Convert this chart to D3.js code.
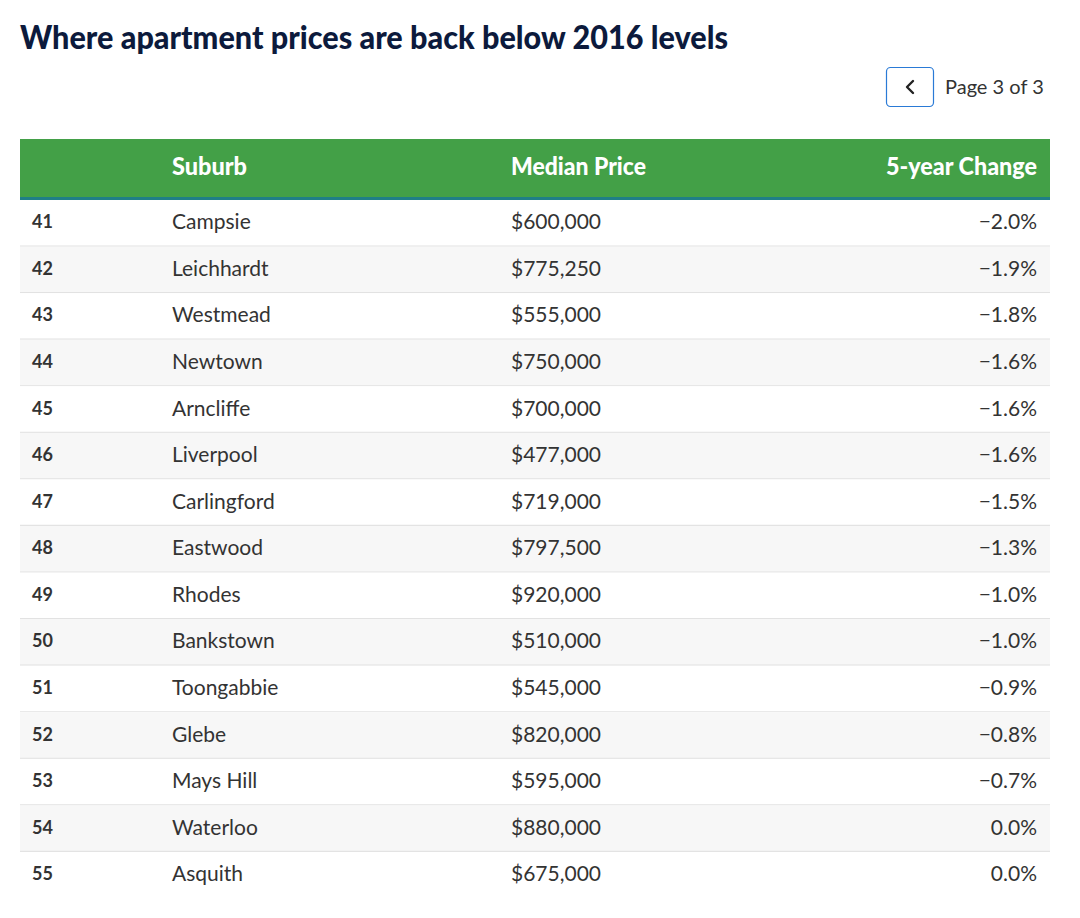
<!DOCTYPE html>
<html>
<head>
<meta charset="utf-8">
<script src="https://cdn.jsdelivr.net/npm/d3@7"></script>
<style>
body{margin:0;background:#fff;}
svg{display:block;}
</style>
</head>
<body>
<div id="chart"></div>
<script>
const title="Where apartment prices are back below 2016 levels";
const columns=["","Suburb","Median Price","5-year Change"];
const ranks=[41,42,43,44,45,46,47,48,49,50,51,52,53,54,55];
const suburbs=["Campsie","Leichhardt","Westmead","Newtown","Arncliffe","Liverpool","Carlingford","Eastwood","Rhodes","Bankstown","Toongabbie","Glebe","Mays Hill","Waterloo","Asquith"];
const prices=[600000,775250,555000,750000,700000,477000,719000,797500,920000,510000,545000,820000,595000,880000,675000];
const changes=[-2.0,-1.9,-1.8,-1.6,-1.6,-1.6,-1.5,-1.3,-1.0,-1.0,-0.9,-0.8,-0.7,0.0,0.0];
const pageText="Page 3 of 3";

const W=1080,H=918;
const svg=d3.select("#chart").append("svg").attr("width",W).attr("height",H);

// fit text into a width by squeezing glyphs when it runs long
function fit(sel,w){
  if(sel.node().getComputedTextLength()>w) sel.attr("textLength",w).attr("lengthAdjust","spacingAndGlyphs");
}

// title
const t=svg.append("text")
  .attr("x",20).attr("y",49)
  .attr("fill","#0c1a3c")
  .attr("font-family","Lato, sans-serif")
  .attr("font-weight",900)
  .attr("font-size",32)
  .text(title);
fit(t,708);

// pager
svg.append("rect")
  .attr("x",886.5).attr("y",67.5).attr("width",47).attr("height",39).attr("rx",4)
  .attr("fill","#fff").attr("stroke","#2a7ad6").attr("stroke-width",1.2);
svg.append("path")
  .attr("d","M913,81 L907,87 L913,93")
  .attr("fill","none").attr("stroke","#222").attr("stroke-width",2.4)
  .attr("stroke-linecap","round").attr("stroke-linejoin","round");
svg.append("text")
  .attr("x",945).attr("y",94)
  .attr("fill","#333")
  .attr("font-family","Lato, sans-serif")
  .attr("font-size",20)
  .text(pageText);

const left=20,right=1050;
const fmtPrice=d3.format("$,");
const fmtChange=v=>(v<0?"\u2212":"")+Math.abs(v).toFixed(1)+"%";

// header
svg.append("rect").attr("x",left).attr("y",139).attr("width",right-left).attr("height",59).attr("fill","#43a047");
svg.append("rect").attr("x",left).attr("y",197).attr("width",right-left).attr("height",3).attr("fill","#1f7f86");

const colX=[32,172,511,1037];
const colAnchor=["start","start","start","end"];
const hdr=svg.append("g");
columns.forEach((c,i)=>{
  const ht=hdr.append("text")
    .attr("x",colX[i]).attr("y",175)
    .attr("text-anchor",colAnchor[i])
    .attr("fill","#fff")
    .attr("font-family","Lato, sans-serif")
    .attr("font-weight",900)
    .attr("font-size",24)
    .text(c);
  const target=[0,75,135,151][i];
  if(target) fit(ht,target);
});

// rows
const y=d3.scaleBand().domain(ranks).range([200,898.5]);
const rows=svg.selectAll("g.row").data(ranks.map((r,i)=>({rank:r,suburb:suburbs[i],price:prices[i],change:changes[i]})))
  .enter().append("g").attr("class","row")
  .attr("transform",d=>`translate(0,${y(d.rank)})`);

rows.append("rect")
  .attr("x",left).attr("width",right-left).attr("height",y.bandwidth())
  .attr("fill",(d,i)=>i%2?"#f7f7f7":"#fff");
rows.filter((d,i)=>i<ranks.length-1).append("line")
  .attr("x1",left).attr("x2",right)
  .attr("y1",y.bandwidth()-0.5).attr("y2",y.bandwidth()-0.5)
  .attr("stroke","#e2e2e2").attr("stroke-width",1.2);

const mid=y.bandwidth()/2;
rows.append("text")
  .attr("x",colX[0]).attr("y",mid+5)
  .attr("fill","#333").attr("font-family","Lato, sans-serif")
  .attr("font-weight",700).attr("font-size",18)
  .text(d=>d.rank);
rows.append("text")
  .attr("x",colX[1]).attr("y",mid+6)
  .attr("fill","#333").attr("font-family","Lato, sans-serif")
  .attr("font-size",21)
  .text(d=>d.suburb);
rows.append("text")
  .attr("x",colX[2]).attr("y",mid+6)
  .attr("fill","#333").attr("font-family","Lato, sans-serif")
  .attr("font-size",21)
  .text(d=>fmtPrice(d.price));
rows.append("text")
  .attr("x",colX[3]).attr("y",mid+6)
  .attr("text-anchor","end")
  .attr("fill","#333").attr("font-family","Lato, sans-serif")
  .attr("font-size",21)
  .text(d=>fmtChange(d.change));
</script>
</body>
</html>
